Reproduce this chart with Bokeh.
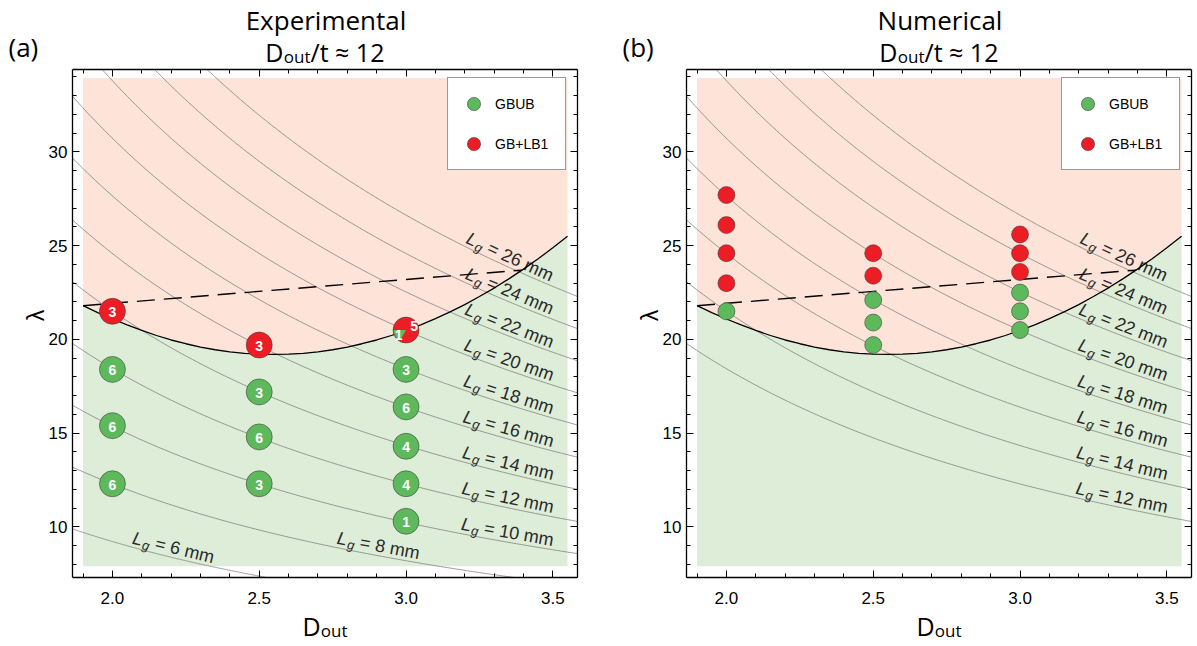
import numpy as np
from bokeh.plotting import figure
from bokeh.layouts import row
from bokeh.models import (Range1d, LinearAxis, SingleIntervalTicker, Label, Legend,
                          LegendItem, CustomJSTickFormatter, PrintfTickFormatter)
from bokeh.core.properties import value
from bokeh.embed import file_html
from bokeh.resources import INLINE

# ---------------- data ----------------
d_over_t = 12                      # D_out / t of the tubes
lg_levels_exp = [6, 8, 10, 12, 14, 16, 18, 20, 22, 24, 26]     # L_g contour levels (mm)
lg_levels_num = [12, 14, 16, 18, 20, 22, 24, 26]
lg_side_labels_exp = [10, 12, 14, 16, 18, 20, 22, 24, 26]
lg_side_labels_num = [12, 14, 16, 18, 20, 22, 24, 26]
lg_low_labels_exp = [6, 8]
lg_low_label_D = [2.20, 2.90]
lg_side_label_D = 3.34

boundary_D = [1.90, 1.95, 2.00, 2.05, 2.10, 2.15, 2.20, 2.25, 2.30, 2.35, 2.40, 2.45,
              2.50, 2.55, 2.60, 2.65, 2.70, 2.75, 2.80, 2.85, 2.90, 2.95, 3.00, 3.05,
              3.10, 3.15, 3.20, 3.25, 3.30, 3.35, 3.40, 3.45, 3.50, 3.55]
boundary_lambda = [21.80, 21.43, 21.09, 20.78, 20.48, 20.21, 19.97, 19.77, 19.59, 19.45,
                   19.34, 19.26, 19.22, 19.20, 19.22, 19.26, 19.34, 19.45, 19.59, 19.77,
                   19.97, 20.21, 20.48, 20.78, 21.11, 21.47, 21.86, 22.29, 22.74, 23.23,
                   23.75, 24.30, 24.89, 25.50]
dashed_D = [1.90, 3.395]
dashed_lambda = [21.80, 23.70]

# Experimental
exp_gbub_D = [2.0, 2.0, 2.0, 2.5, 2.5, 2.5, 3.0, 3.0, 3.0, 3.0, 3.0]
exp_gbub_lambda = [12.3, 15.4, 18.4, 12.3, 14.8, 17.2, 10.3, 12.3, 14.3, 16.4, 18.4]
exp_gbub_count = ["6", "6", "6", "3", "6", "3", "1", "4", "4", "6", "3"]
exp_lb_D = [2.0, 2.5]
exp_lb_lambda = [21.5, 19.7]
exp_lb_count = ["3", "3"]
exp_mixed_D = [3.0]
exp_mixed_lambda = [20.5]
exp_mixed_gbub = [1]
exp_mixed_lb = [5]

# Numerical
num_gbub_D = [2.0, 2.5, 2.5, 2.5, 3.0, 3.0, 3.0]
num_gbub_lambda = [21.5, 19.7, 20.9, 22.1, 20.5, 21.5, 22.5]
num_lb_D = [2.0, 2.0, 2.0, 2.0, 2.5, 2.5, 3.0, 3.0, 3.0]
num_lb_lambda = [23.0, 24.6, 26.1, 27.7, 23.4, 24.6, 23.6, 24.6, 25.6]

# ---------------- style / geometry ----------------
GREEN = "#5db95b"
RED = "#ec1d24"
PINK_BG = "#fde3d8"
GREEN_BG = "#ddedd8"
CONTOUR = "#808080"
TXT = "#2a2a2a"

X0, X1 = 1.864, 3.584
Y0, Y1 = 7.3, 34.4
FILL_Y = (7.9, 33.95)
FW, FH = 505, 508
FT = 69
H = 646
PXX = FW / (X1 - X0)
PXY = FH / (Y1 - Y0)
K = 4.0 / np.sqrt(1.0 + (1.0 - 2.0 / d_over_t) ** 2)   # lambda = K * L_g / D_out

ARIAL_W = {" ": 0.278, "=": 0.584, "m": 0.833}
OPEN_W = {"D": 0.735, "o": 0.602, "u": 0.612, "t": 0.361, "/": 0.372, " ": 0.26,
          "≈": 0.571, "1": 0.571, "2": 0.571}


def arial_width(s, fs):
    return sum(ARIAL_W.get(c, 0.556) for c in s) * fs


def open_width(s, fs):
    return sum(OPEN_W.get(c, 0.57) for c in s) * fs


def style_axis(ax, standoff):
    ax.major_tick_in = 7
    ax.major_tick_out = 0
    ax.minor_tick_in = 4
    ax.minor_tick_out = 0
    ax.axis_line_color = "black"
    ax.axis_line_width = 1.3
    ax.major_tick_line_color = "black"
    ax.minor_tick_line_color = "black"
    ax.major_label_text_font = "Liberation Sans"
    ax.major_label_text_font_size = "17px"
    ax.major_label_text_color = "black"
    ax.major_label_standoff = standoff


def contour_labels(p, levels, Ds):
    FS, FSS, SHIFT = 18, 13, 10
    wL = 0.60 * FS
    wg = 0.556 * FSS
    wsp = 0.278 * FS
    parts = {"L": ([], [], [], []), "g": ([], [], [], []), "r": ([], [], [], [])}
    for L, Dc in zip(levels, Ds):
        lam = K * L / Dc
        th = np.arctan((-K * L / Dc ** 2) * PXY / PXX)
        ux, uy = np.cos(th), np.sin(th)
        nx, ny = -np.sin(th), np.cos(th)
        rest = f"= {L} mm"
        W = wL + wg + wsp + arial_width(rest, FS)
        s0 = -W / 2
        for key, txt, along, perp in (("L", "L", s0, SHIFT), ("g", "g", s0 + wL, SHIFT - 4.5),
                                      ("r", rest, s0 + wL + wg + wsp, SHIFT)):
            px = along * ux + perp * nx
            py = along * uy + perp * ny
            parts[key][0].append(Dc + px / PXX)
            parts[key][1].append(lam + py / PXY)
            parts[key][2].append(txt)
            parts[key][3].append(th)
    for key, fs, style in (("L", FS, "italic"), ("g", FSS, "italic"), ("r", FS, "normal")):
        xs, ys, ts, angs = parts[key]
        p.text(x=xs, y=ys, text=ts, angle=angs, text_font=value("Liberation Sans"),
               text_font_size=f"{fs}px", text_font_style=style, text_color=TXT,
               text_align="left", text_baseline="alphabetic")


def composite_label(p, fx, fy, cx, base, pieces):
    total = sum(open_width(t, fs) for t, fs, _ in pieces)
    x = cx - total / 2
    for t, fs, drop in pieces:
        p.add_layout(Label(x=fx(x), y=fy(base + drop), text=t, text_font="Open Sans",
                           text_font_size=f"{fs}px", text_color="black",
                           text_align="left", text_baseline="alphabetic"))
        x += open_width(t, fs)


def make_panel(FL, total_w, title, tag, levels, side_levels, low_levels, low_D):
    # the frame covers the whole canvas; the panel's box is drawn with fixed-location axes
    xr = Range1d(X0 - FL / PXX, X0 + (total_w - FL) / PXX)
    yr = Range1d(Y1 - (H - FT) / PXY, Y1 + FT / PXY)
    p = figure(frame_width=total_w, frame_height=H, x_range=xr, y_range=yr,
               min_border=0, x_axis_type=None, y_axis_type=None,
               output_backend="svg", toolbar_location=None,
               background_fill_color="white", border_fill_color="white")
    p.grid.visible = False
    p.outline_line_color = None

    xt = SingleIntervalTicker(interval=0.5, num_minor_ticks=5)
    yt = SingleIntervalTicker(interval=5, num_minor_ticks=5)
    blank = CustomJSTickFormatter(code="return ''")
    bottom = LinearAxis(fixed_location=Y0, bounds=(X0, X1), ticker=xt,
                        formatter=PrintfTickFormatter(format="%.1f"))
    left = LinearAxis(fixed_location=X0, bounds=(Y0, Y1), ticker=yt)
    top = LinearAxis(fixed_location=Y1, bounds=(X0, X1), ticker=xt, formatter=blank)
    right = LinearAxis(fixed_location=X1, bounds=(Y0, Y1), ticker=yt, formatter=blank)
    style_axis(bottom, 14)
    style_axis(left, 5)
    style_axis(top, 0)
    style_axis(right, 0)
    p.add_layout(bottom, "below")
    p.add_layout(left, "left")
    p.add_layout(top, "above")
    p.add_layout(right, "right")

    # regions
    p.varea(x=boundary_D, y1=boundary_lambda, y2=FILL_Y[1], fill_color=PINK_BG)
    p.varea(x=boundary_D, y1=FILL_Y[0], y2=boundary_lambda, fill_color=GREEN_BG)

    # L_g contours, kept inside the panel box
    xs, ys = [], []
    for L in levels:
        dd = np.linspace(max(X0, K * L / Y1), min(X1, K * L / Y0), 300)
        xs.append(dd)
        ys.append(K * L / dd)
    p.multi_line(xs=xs, ys=ys, line_color=CONTOUR, line_width=0.8)
    contour_labels(p, side_levels, [lg_side_label_D] * len(side_levels))
    if low_levels:
        contour_labels(p, low_levels, low_D)

    p.line(boundary_D, boundary_lambda, line_color="black", line_width=1.3)
    p.line(dashed_D, dashed_lambda, line_color="black", line_width=1.4, line_dash="18 9")

    fx = lambda px: X0 + (px - FL) / PXX
    fy = lambda py: Y1 - (py - FT) / PXY
    cx = FL + FW / 2
    p.add_layout(Label(x=fx(cx + 1), y=fy(19), text=title, text_font="Open Sans",
                       text_font_size="26px", text_color="black",
                       text_align="center", text_baseline="alphabetic"))
    p.add_layout(Label(x=fx(FL - 64), y=fy(46), text=tag, text_font="Open Sans",
                       text_font_size="26px", text_color="black",
                       text_align="left", text_baseline="alphabetic"))
    composite_label(p, fx, fy, cx, 51, [("D", 25, 0), ("out", 17, 5), ("/t ≈ 12", 25, 0)])
    composite_label(p, fx, fy, cx, 625, [("D", 25, 0), ("out", 17, 5)])
    p.add_layout(Label(x=fx(FL - 37), y=fy(FT + FH / 2 - 8), text="λ", text_font="Liberation Sans",
                       text_font_size="23px", text_color="black", angle=np.pi / 2,
                       text_align="center", text_baseline="middle"))
    return p


def add_legend(p, FL, g, r):
    leg = Legend(items=[LegendItem(label="GBUB", renderers=[g]),
                        LegendItem(label="GB+LB1", renderers=[r])],
                 location=(FL + 375, H - FT - FH + 407), glyph_width=33, glyph_height=33,
                 label_standoff=5, label_width=61, label_height=33, padding=9, spacing=7, margin=0,
                 border_line_color="#333333", border_line_width=1,
                 background_fill_color="white", background_fill_alpha=1.0,
                 label_text_font="Liberation Sans", label_text_font_size="14px",
                 label_text_color="black")
    p.add_layout(leg)


# ---------------- left: experimental ----------------
pL = make_panel(72, 600, "Experimental", "(a)", lg_levels_exp, lg_side_labels_exp,
                lg_low_labels_exp, lg_low_label_D)
gL = pL.scatter(exp_gbub_D, exp_gbub_lambda, size=26, fill_color=GREEN,
                line_color="#3a3a3a", line_alpha=0.55, line_width=1)
rL = pL.scatter(exp_lb_D + exp_mixed_D, exp_lb_lambda + exp_mixed_lambda, size=26, fill_color=RED,
                line_color="#3a3a3a", line_alpha=0.55, line_width=1)
frac = [g / (g + r) for g, r in zip(exp_mixed_gbub, exp_mixed_lb)]
pL.wedge(x=exp_mixed_D, y=exp_mixed_lambda, radius=12.3, radius_units="screen",
         start_angle=np.pi, end_angle=[np.pi + 2 * np.pi * f for f in frac],
         fill_color=GREEN, line_color=None)
pL.text(x=exp_gbub_D + exp_lb_D, y=exp_gbub_lambda + exp_lb_lambda,
        text=exp_gbub_count + exp_lb_count, text_color="white",
        text_font=value("Liberation Sans"), text_font_size="14px", text_font_style="bold",
        text_align="center", text_baseline="middle", y_offset=1)
pL.text(x=[d - 7.5 / PXX for d in exp_mixed_D], y=[l - 4.5 / PXY for l in exp_mixed_lambda],
        text=[str(v) for v in exp_mixed_gbub], text_color="white",
        text_font=value("Liberation Sans"), text_font_size="14px", text_font_style="bold",
        text_align="center", text_baseline="middle")
pL.text(x=[d + 8 / PXX for d in exp_mixed_D], y=[l + 4 / PXY for l in exp_mixed_lambda],
        text=[str(v) for v in exp_mixed_lb], text_color="white",
        text_font=value("Liberation Sans"), text_font_size="14px", text_font_style="bold",
        text_align="center", text_baseline="middle")
add_legend(pL, 72, gL, rL)

# ---------------- right: numerical ----------------
pR = make_panel(86, 597, "Numerical", "(b)", lg_levels_num, lg_side_labels_num, [], [])
gR = pR.scatter(num_gbub_D, num_gbub_lambda, size=17, fill_color=GREEN,
                line_color="#3a3a3a", line_alpha=0.55, line_width=1)
rR = pR.scatter(num_lb_D, num_lb_lambda, size=17, fill_color=RED,
                line_color="#3a3a3a", line_alpha=0.55, line_width=1)
add_legend(pR, 86, gR, rR)

layout = row(pL, pR)
open("out.html", "w").write(file_html(layout, INLINE))
